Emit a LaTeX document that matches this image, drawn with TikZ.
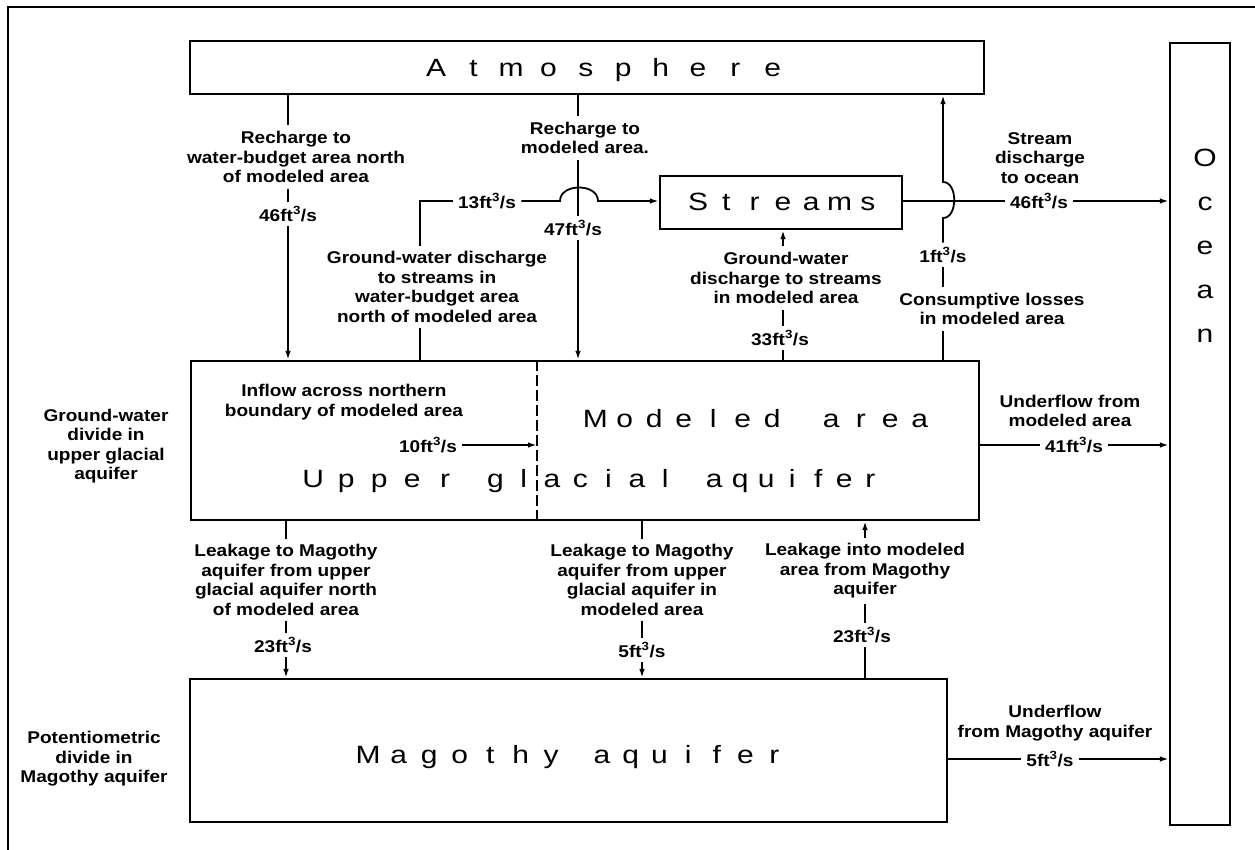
\documentclass[tikz,border=0pt]{standalone}
\usepackage{graphicx}
\usepackage{fontspec}
\setmainfont{Liberation Sans}
\usetikzlibrary{arrows.meta}
\newcommand\spreadw{}
\newcommand\spread[2]{\renewcommand\spreadw{#1}\spreadloop#2\relax}
\def\spreadloop#1{\ifx#1\relax\else\makebox[\spreadw][c]{\scalebox{1.2}[1]{#1}}\expandafter\spreadloop\fi}
\begin{document}
\begin{tikzpicture}[x=1pt,y=-1pt,
  box/.style={draw, line width=2.2pt, inner sep=0pt},
  big/.style={font=\fontsize{25}{30}\selectfont, inner sep=0pt},
  lbl/.style={font=\fontsize{17}{19.5}\selectfont\bfseries, align=center, inner sep=0pt, outer sep=6pt, xscale=1.12},
  val/.style={font=\fontsize{17}{19.5}\selectfont\bfseries, inner sep=0pt, outer sep=5pt, xscale=1.12},
  ln/.style={line width=1.8pt},
  arr/.style={ln, -{Latex[length=9pt,width=5.5pt]}},
]
\useasboundingbox (0,0) rectangle (1255,850);
\draw[line width=1.5pt] (8,850) -- (8,7) -- (1255,7);

% boxes
\node[box, minimum width=794pt, minimum height=53pt] (atm) at (587,67.5) {};
\node[box, minimum width=60pt, minimum height=782pt] (ocean) at (1200,434) {};
\node[box, minimum width=242pt, minimum height=53pt] (streams) at (781,202.5) {};
\node[box, minimum width=788pt, minimum height=159pt] (ug) at (585,440.5) {};
\node[box, minimum width=757pt, minimum height=143pt] (mag) at (568.5,750.5) {};

% big titles
\node[big, anchor=base] (atmtxt) at (604.5,77) {\spread{37.4pt}{Atmosphere}};
\node[big, anchor=base] (strtxt) at (783,211) {\spread{28.3pt}{Streams}};
\node[big, anchor=base] (modtxt) at (757.5,427) {\spread{29.5pt}{Modeled}\hspace{29.5pt}\spread{29.5pt}{area}};
\node[big, anchor=base west] (ugtxt) at (296.5,487) {\spread{33pt}{Upper}\hspace{19.5pt}\spread{28.3pt}{glacial}\hspace{22pt}\spread{26pt}{aquifer}};
\node[big, anchor=base west] (magtxt) at (352.75,763) {\spread{30.5pt}{Magothy}\hspace{21.25pt}\spread{28.7pt}{aquifer}};
\node[big, align=center, anchor=north, font=\fontsize{25}{44}\selectfont] (octxt) at (1205,149) {\scalebox{1.2}[1]{O}\\\scalebox{1.2}[1]{c}\\\scalebox{1.2}[1]{e}\\\scalebox{1.2}[1]{a}\\\scalebox{1.2}[1]{n}};

% small labels
\node[lbl] (rn) at (296,157) {Recharge to\\water-budget area north\\of modeled area};
\node[val] (v46n) at (288,214) {46ft\textsuperscript{3}/s};
\node[lbl] (rm) at (585,138) {Recharge to\\modeled area.};
\node[val] (v47) at (573,228) {47ft\textsuperscript{3}/s};
\node[val] (v13) at (487,201) {13ft\textsuperscript{3}/s};
\node[lbl] (gwn) at (437,287) {Ground-water discharge\\to streams in\\water-budget area\\north of modeled area};
\node[lbl] (sd) at (1040,158) {Stream\\discharge\\to ocean};
\node[val] (v46o) at (1039,201) {46ft\textsuperscript{3}/s};
\node[val] (v1) at (943,255) {1ft\textsuperscript{3}/s};
\node[lbl] (cons) at (992,309) {Consumptive losses\\in modeled area};
\node[lbl] (gwm) at (786,278) {Ground-water\\discharge to streams\\in modeled area};
\node[val] (v33) at (780,338) {33ft\textsuperscript{3}/s};
\node[lbl] (inf) at (344,402) {Inflow across northern\\boundary of modeled area};
\node[val] (v10) at (428,445) {10ft\textsuperscript{3}/s};
\node[lbl] (uf1) at (1070,411) {Underflow from\\modeled area};
\node[val] (v41) at (1074,445) {41ft\textsuperscript{3}/s};
\node[lbl] (lk1) at (286,580) {Leakage to Magothy\\aquifer from upper\\glacial aquifer north\\of modeled area};
\node[val] (v23a) at (283,645) {23ft\textsuperscript{3}/s};
\node[lbl] (lk2) at (642,580) {Leakage to Magothy\\aquifer from upper\\glacial aquifer in\\modeled area};
\node[val] (v5a) at (642,650) {5ft\textsuperscript{3}/s};
\node[lbl] (lk3) at (865,571) {Leakage into modeled\\area from Magothy\\aquifer};
\node[val] (v23b) at (862,635) {23ft\textsuperscript{3}/s};
\node[lbl] (uf2) at (1055,723) {Underflow\\from Magothy aquifer};
\node[val] (v5b) at (1050,759) {5ft\textsuperscript{3}/s};
\node[lbl] (gwd) at (106,446) {Ground-water\\divide in\\upper glacial\\aquifer};
\node[lbl] (pd) at (94,759) {Potentiometric\\divide in\\Magothy aquifer};

% columns
\coordinate (c288) at (288,0);
\coordinate (c578) at (578,0);
\coordinate (c420) at (420,0);
\coordinate (c943) at (943,0);
\coordinate (c783) at (783,0);
\coordinate (c537) at (537,0);
\coordinate (c286) at (286,0);
\coordinate (c642) at (642,0);
\coordinate (c865) at (865,0);

% recharge north
\draw[ln] (atm.south -| c288) -- (rn.north -| c288);
\draw[ln] (rn.south -| c288) -- (v46n.north -| c288);
\draw[arr] (v46n.south -| c288) -- (ug.north -| c288);
% recharge modeled
\draw[ln] (atm.south -| c578) -- (rm.north -| c578);
\draw[ln] (rm.south -| c578) -- (v47.north -| c578);
\draw[arr] (v47.south -| c578) -- (ug.north -| c578);
% ground-water discharge north -> streams
\draw[ln] (ug.north -| c420) -- (gwn.south -| c420);
\draw[ln] (gwn.north -| c420) -- (c420 |- v13.west) -- (v13.west);
\draw[arr] (v13.east) -- (560,201) .. controls (560,183) and (598,183) .. (598,201) -- (streams.west |- v13.east);
% streams -> ocean
\draw[ln] (streams.east |- v46o.west) -- (v46o.west);
\draw[arr] (v46o.east) -- (ocean.west |- v46o.east);
% consumptive losses -> atmosphere
\draw[arr] (v1.north -| c943) -- (943,218) .. controls (958,218) and (958,182) .. (943,182) -- (atm.south -| c943);
\draw[ln] (cons.north -| c943) -- (v1.south -| c943);
\draw[ln] (ug.north -| c943) -- (cons.south -| c943);
% ground-water discharge modeled -> streams
\draw[arr] (gwm.north -| c783) -- (streams.south -| c783);
\draw[ln] (v33.north -| c783) -- (gwm.south -| c783);
\draw[ln] (ug.north -| c783) -- (v33.south -| c783);
% northern boundary
\draw[line width=2.4pt, dash pattern=on 11pt off 4pt] (ug.north -| c537) -- (ug.south -| c537);
\draw[arr] (v10.east) -- (c537 |- v10.east);
% underflow modeled area
\draw[ln] (ug.east |- v41.west) -- (v41.west);
\draw[arr] (v41.east) -- (ocean.west |- v41.east);
% leakage north
\draw[ln] (ug.south -| c286) -- (lk1.north -| c286);
\draw[ln] (lk1.south -| c286) -- (v23a.north -| c286);
\draw[arr] (v23a.south -| c286) -- (mag.north -| c286);
% leakage modeled
\draw[ln] (ug.south -| c642) -- (lk2.north -| c642);
\draw[ln] (lk2.south -| c642) -- (v5a.north -| c642);
\draw[arr] (v5a.south -| c642) -- (mag.north -| c642);
% leakage into modeled area
\draw[arr] (lk3.north -| c865) -- (ug.south -| c865);
\draw[ln] (v23b.north -| c865) -- (lk3.south -| c865);
\draw[ln] (mag.north -| c865) -- (v23b.south -| c865);
% underflow Magothy
\draw[ln] (mag.east |- v5b.west) -- (v5b.west);
\draw[arr] (v5b.east) -- (ocean.west |- v5b.east);
\end{tikzpicture}
\end{document}
